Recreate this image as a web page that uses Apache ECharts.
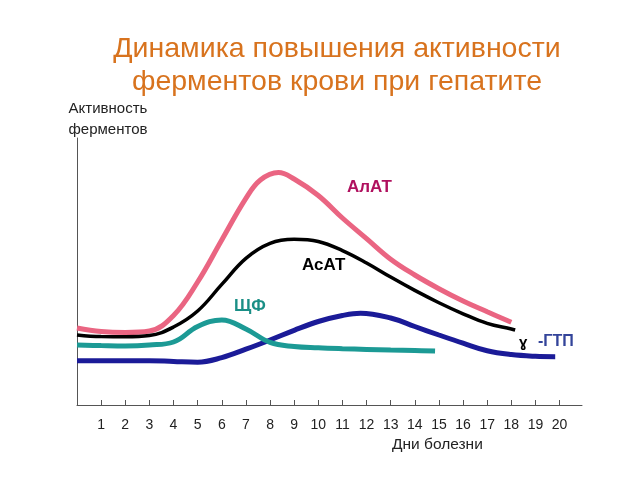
<!DOCTYPE html>
<html>
<head>
<meta charset="utf-8">
<script src="https://cdn.jsdelivr.net/npm/echarts@6/dist/echarts.min.js"></script>
<style>
html,body{margin:0;padding:0;background:#fff;}
#c{width:640px;height:480px;}
</style>
</head>
<body>
<div id="c"></div>
<script>
// Day tick labels
var dayLabels = ['1','2','3','4','5','6','7','8','9','10','11','12','13','14','15','16','17','18','19','20'];

// Series: [day, activity] (activity in arbitrary units)
var alatData = [[0,77],[1,73.5],[2,72.5],[3,74],[4,89.5],[5,123],[6,165],[7,206.6],[7.6,225],[8.35,232.5],[9,226],[10,209.5],[11,187],[12,166.4],[13,145.8],[14,130],[15,116.3],[16,104],[17,93.2],[18,82.7]];
var asatData = [[0,70],[1,68.4],[2,68.3],[3,69.5],[4,78],[5,94],[6,120.6],[7,146.7],[8,161.7],[9,165.7],[10,163.5],[11,154.4],[12,142],[13,127.9],[14,114.6],[15,102.3],[16,91.2],[17,81.6],[18,76],[18.16,75]];
var alpData  = [[0,60],[1,59.4],[2,59],[3,60],[4,63],[5,78.5],[6,85],[7,76],[8,62.6],[9,58.5],[10,57.2],[11,56.3],[12,55.6],[13,55],[14,54.5],[14.84,54]];
var ggtData  = [[0,44.3],[1,44.3],[2,44.3],[3,44.3],[4,43.5],[5,42.8],[6,47.4],[7,55.8],[8,65],[9,74.7],[10,83.5],[11,89.5],[11.75,91.8],[13,87],[14,78.5],[15,70],[16,61.8],[17,54.2],[18,50.4],[19,48.7],[19.82,48.3]];

var chart = echarts.init(document.getElementById('c'), null, {renderer:'canvas'});
var font = '"Liberation Sans", Arial, sans-serif';

function line(name, data, color, width){
  return {
    name: name, type: 'line', data: data, smooth: 0.4, symbol: 'none',
    lineStyle: {color: color, width: width, cap: 'butt'},
    animation: false
  };
}

chart.setOption({
  backgroundColor: '#fff',
  animation: false,
  title: {
    text: 'Динамика повышения активности\nферментов крови при гепатите',
    left: 332, top: 28, textAlign: 'center',
    textStyle: {color: '#d8731e', fontSize: 28.5, fontWeight: 'normal', fontFamily: font, lineHeight: 33}
  },
  grid: {left: 77, right: 58, top: 138, bottom: 75},
  xAxis: {
    type: 'value', min: 0, max: 20.93, interval: 1,
    axisLine: {show: true, lineStyle: {color: '#555', width: 1}},
    axisTick: {show: true, inside: true, length: 5, lineStyle: {color: '#555'}},
    splitLine: {show: false},
    axisLabel: {
      show: true, margin: 13, color: '#222', fontSize: 14, fontFamily: font,
      showMinLabel: false, showMaxLabel: false,
      formatter: function(v){ var i = Math.round(v); return (i >= 1 && i <= dayLabels.length) ? dayLabels[i-1] : ''; }
    }
  },
  yAxis: {
    type: 'value', min: 0, max: 267,
    axisLine: {show: true, lineStyle: {color: '#555', width: 1}},
    axisTick: {show: false}, axisLabel: {show: false}, splitLine: {show: false}
  },
  series: [
    line('ГТП', ggtData, '#1b1b98', 5),
    line('ЩФ', alpData, '#1c9a95', 5),
    line('АлАТ', alatData, '#ea6582', 5),
    line('АсАТ', asatData, '#000000', 3.5)
  ],
  graphic: [
    {type:'text', x: 108, y: 98, style:{text:'Активность\nферментов', fill:'#222', font:'15px ' + font, lineHeight: 21, align:'center'}},
    {type:'text', x: 392, y: 437, style:{text:'Дни болезни', fill:'#222', font:'15.5px ' + font}},
    {type:'text', x: 347, y: 179, style:{text:'АлАТ', fill:'#b0105e', font:'bold 17px ' + font}},
    {type:'text', x: 302, y: 257, style:{text:'АсАТ', fill:'#000', font:'bold 17px ' + font}},
    {type:'text', x: 234, y: 298, style:{text:'ЩФ', fill:'#1a8f86', font:'bold 17px ' + font}},
    {type:'text', x: 519, y: 335, style:{text:'ɣ', fill:'#000', font:'bold 15px ' + font}},
    {type:'text', x: 538, y: 334, style:{text:'-ГТП', fill:'#33449a', font:'bold 16px ' + font}}
  ]
});
</script>
</body>
</html>
